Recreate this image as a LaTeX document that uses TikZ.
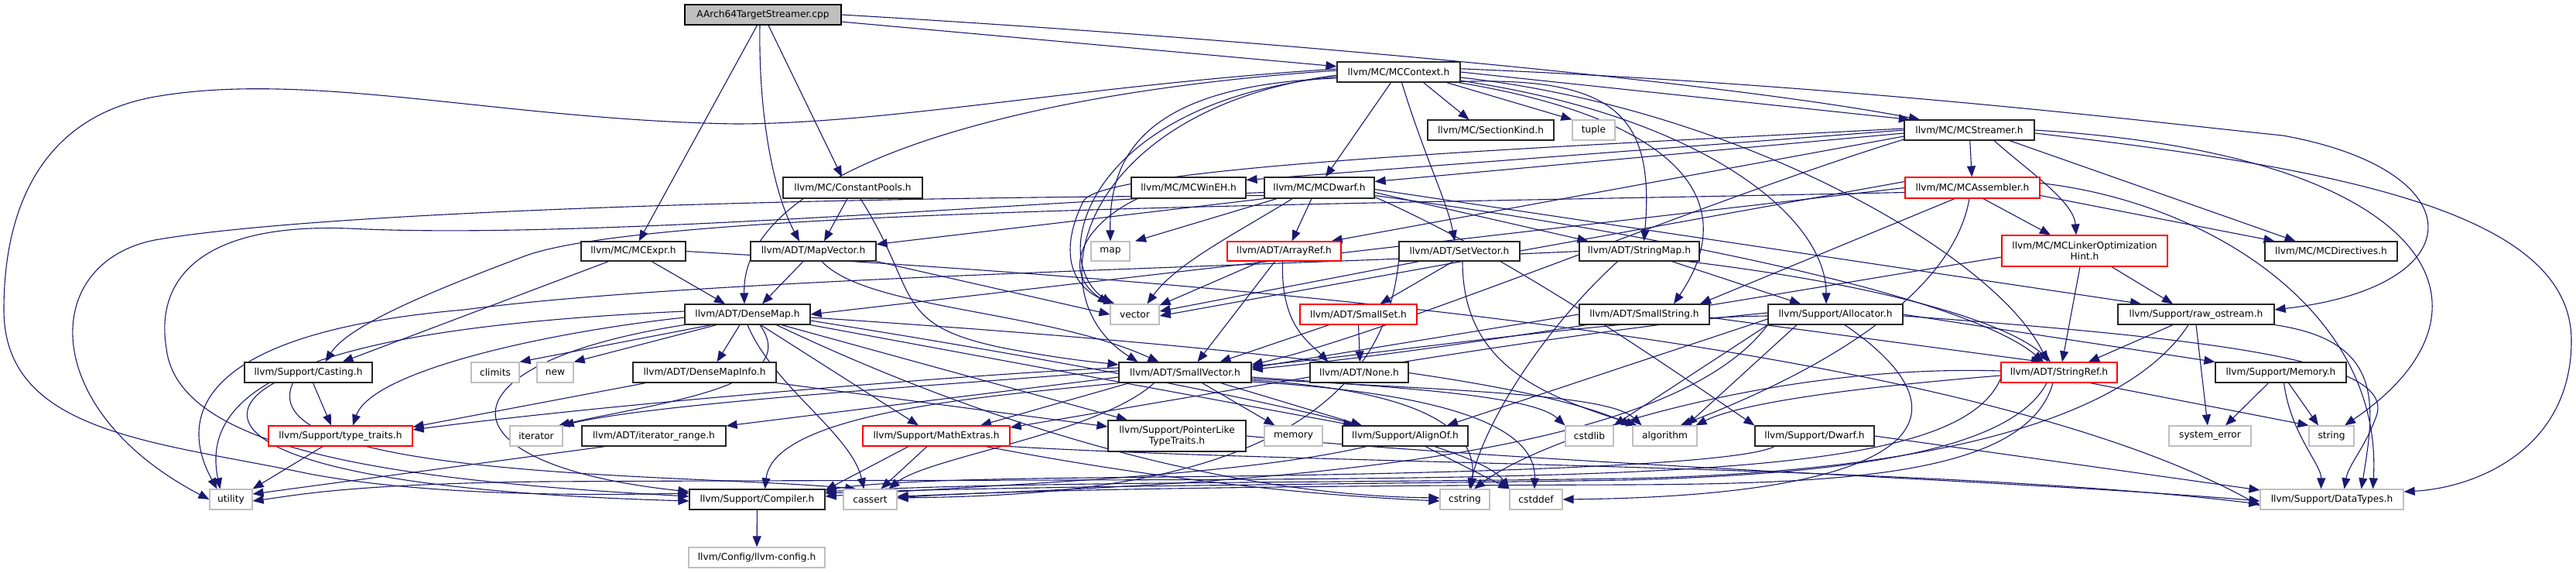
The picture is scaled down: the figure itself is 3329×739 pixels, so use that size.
\documentclass[tikz,border=0pt]{standalone}
\usepackage{fontspec}
\newfontfamily\ndfamily{DejaVu Sans}
\usetikzlibrary{arrows.meta}
\definecolor{edgeblue}{HTML}{191970}
\definecolor{gry}{HTML}{BFBFBF}
\definecolor{tred}{HTML}{FF0000}
\pgfdeclarelayer{bgpaper}
\pgfdeclarelayer{edges}
\pgfsetlayers{bgpaper,edges,main}
\newcommand{\mknode}[7]{%
  \pgfmathsetmacro{\mkw}{(#4-#2)*0.5}%
  \pgfmathsetmacro{\mkh}{(#5-#3)*0.5}%
  \pgfmathsetmacro{\mkx}{(#2+#4)/2}%
  \pgfmathsetmacro{\mky}{(#3+#5)/2}%
  \node[#6, minimum width=\mkw pt, minimum height=\mkh pt] (#1) at (\mkx,\mky) {#7};%
}
\tikzset{
  nbase/.style={rectangle, fill=white, inner sep=0pt, align=center, text=black,
     font=\ndfamily\fontsize{6.1}{7.2}\selectfont, line width=0.6pt},
  box/.style={nbase, draw=black!85},
  rbox/.style={nbase, draw=tred},
  gbox/.style={nbase, draw=gry},
  cbox/.style={nbase, draw=black, fill=gry},
  lnk/.style={draw=edgeblue, line width=0.55pt, -{Triangle[length=7pt,width=5.5pt]}},
}
\begin{document}
\begin{tikzpicture}[x=0.5pt,y=-0.5pt]
\begin{pgfonlayer}{bgpaper}
\path[use as bounding box, fill=white] (0,0) rectangle (3329,739);
\end{pgfonlayer}
% nodes
\mknode{cpp}{885}{6}{1087}{32}{cbox}{AArch64TargetStreamer.cpp}
\mknode{ctx}{1728}{80}{1887}{106}{box}{llvm/MC/MCContext.h}
\mknode{skind}{1845}{155}{2008}{181}{box}{llvm/MC/SectionKind.h}
\mknode{tuple}{2032}{155}{2087}{181}{gbox}{tuple}
\mknode{strm}{2461}{155}{2629}{181}{box}{llvm/MC/MCStreamer.h}
\mknode{cpool}{1012}{229}{1192}{256}{box}{llvm/MC/ConstantPools.h}
\mknode{wineh}{1462}{229}{1610}{256}{box}{llvm/MC/MCWinEH.h}
\mknode{dwarf}{1634}{229}{1776}{256}{box}{llvm/MC/MCDwarf.h}
\mknode{asm}{2462}{229}{2636}{256}{rbox}{llvm/MC/MCAssembler.h}
\mknode{expr}{751}{312}{886}{337}{box}{llvm/MC/MCExpr.h}
\mknode{mapv}{970}{312}{1132}{337}{box}{llvm/ADT/MapVector.h}
\mknode{map}{1410}{312}{1460}{337}{gbox}{map}
\mknode{aref}{1586}{312}{1733}{337}{rbox}{llvm/ADT/ArrayRef.h}
\mknode{setv}{1808}{312}{1964}{337}{box}{llvm/ADT/SetVector.h}
\mknode{smap}{2041}{312}{2196}{337}{box}{llvm/ADT/StringMap.h}
\mknode{loh}{2587}{304}{2801}{344}{rbox}{llvm/MC/MCLinkerOptimization\\Hint.h}
\mknode{dirs}{2927}{312}{3098}{337}{box}{llvm/MC/MCDirectives.h}
\mknode{dmap}{885}{393}{1047}{419}{box}{llvm/ADT/DenseMap.h}
\mknode{vector}{1435}{393}{1498}{419}{gbox}{vector}
\mknode{sset}{1680}{393}{1831}{419}{rbox}{llvm/ADT/SmallSet.h}
\mknode{sstr}{2041}{393}{2209}{419}{box}{llvm/ADT/SmallString.h}
\mknode{alloc}{2285}{393}{2459}{419}{box}{llvm/Support/Allocator.h}
\mknode{rawos}{2737}{393}{2939}{419}{box}{llvm/Support/raw\_ostream.h}
\mknode{cast}{316}{468}{481}{494}{box}{llvm/Support/Casting.h}
\mknode{climits}{609}{468}{671}{494}{gbox}{climits}
\mknode{new}{694}{468}{741}{494}{gbox}{new}
\mknode{dmi}{818}{468}{1003}{494}{box}{llvm/ADT/DenseMapInfo.h}
\mknode{svec}{1446}{468}{1617}{494}{box}{llvm/ADT/SmallVector.h}
\mknode{none}{1693}{468}{1820}{494}{box}{llvm/ADT/None.h}
\mknode{sref}{2586}{468}{2736}{494}{rbox}{llvm/ADT/StringRef.h}
\mknode{mem}{2863}{468}{3032}{494}{box}{llvm/Support/Memory.h}
\mknode{tt}{347}{550}{533}{576}{rbox}{llvm/Support/type\_traits.h}
\mknode{iter}{659}{550}{727}{576}{gbox}{iterator}
\mknode{irange}{752}{550}{938}{576}{box}{llvm/ADT/iterator\_range.h}
\mknode{mathx}{1115}{550}{1305}{576}{rbox}{llvm/Support/MathExtras.h}
\mknode{pltt}{1432}{543}{1610}{583}{box}{llvm/Support/PointerLike\\TypeTraits.h}
\mknode{memory}{1634}{550}{1709}{576}{gbox}{memory}
\mknode{alignof}{1735}{550}{1897}{576}{box}{llvm/Support/AlignOf.h}
\mknode{cstdlib}{2023}{550}{2085}{576}{gbox}{cstdlib}
\mknode{algo}{2110}{550}{2193}{576}{gbox}{algorithm}
\mknode{sdwarf}{2268}{550}{2422}{576}{box}{llvm/Support/Dwarf.h}
\mknode{syserr}{2803}{550}{2909}{576}{gbox}{system\_error}
\mknode{string}{2984}{550}{3042}{576}{gbox}{string}
\mknode{utility}{271}{632}{326}{658}{gbox}{utility}
\mknode{comp}{891}{632}{1066}{658}{box}{llvm/Support/Compiler.h}
\mknode{cassert}{1090}{632}{1159}{658}{gbox}{cassert}
\mknode{cstring}{1861}{632}{1925}{658}{gbox}{cstring}
\mknode{cstddef}{1951}{632}{2019}{658}{gbox}{cstddef}
\mknode{dtypes}{2921}{632}{3106}{658}{gbox}{llvm/Support/DataTypes.h}
\mknode{cfg}{890}{707}{1066}{733}{gbox}{llvm/Config/llvm-config.h}

\begin{pgfonlayer}{edges}
% AArch64TargetStreamer.cpp
\draw[lnk] (cpp) -- (ctx);
\draw[lnk] (cpp.east) .. controls (1700,55) and (2250,110) .. (strm.168);
\draw[lnk] (cpp) -- (expr);
\draw[lnk] ([xshift=-2pt]cpp.south) .. controls (980,150) and (1000,250) .. ([xshift=-9pt]mapv.north);
\draw[lnk] ([xshift=3.5pt]cpp.south) -- ([xshift=-7pt]cpool.north);
% MCContext.h
\draw[lnk] ([xshift=16pt]ctx.south) -- ([xshift=-14pt]skind.north);
\draw[lnk] ([xshift=31pt]ctx.south) -- (tuple.north west);
\draw[lnk] (ctx.east) -- (strm.170);
\draw[lnk] ([xshift=-5pt]ctx.south) -- ([xshift=4pt]dwarf.north);
\draw[lnk] ([xshift=2pt]ctx.south) .. controls (1840,200) and (1870,260) .. ([xshift=-3pt]setv.north);
\draw[lnk] (ctx.-15) .. controls (2080,95) and (2140,140) .. ([xshift=3pt]smap.north);
\draw[lnk] (ctx.-10) .. controls (2150,150) and (2260,250) .. ([xshift=19pt]sstr.north);
\draw[lnk] (ctx.-8) .. controls (2200,150) and (2360,280) .. ([xshift=-6pt]alloc.north);
\draw[lnk] (ctx.-5) .. controls (2250,140) and (2580,330) .. ([xshift=-7.5pt]sref.north);
\draw[lnk] (ctx.3) .. controls (2400,110) and (2800,160) .. (2950,175) .. controls (3200,220) and (3200,370) .. ([yshift=3pt]rawos.east);
\draw[lnk] ([yshift=-2pt]ctx.west) .. controls (1400,140) and (1330,380) .. ([xshift=-30.5pt]svec.north);
\draw[lnk] ([yshift=-3pt]ctx.west) .. controls (1410,130) and (1350,330) .. ([xshift=-15pt]vector.north);
\draw[lnk] ([yshift=-4pt]ctx.west) .. controls (1480,110) and (1433,200) .. (map.north);
\draw[lnk] ([yshift=1pt]ctx.west) .. controls (1300,120) and (958,220) .. ([xshift=-2pt]dmap.north);
\draw[lnk] ([yshift=2pt]ctx.west) .. controls (1400,110) and (1150,160) .. (950,160) .. controls (650,155) and (400,90) .. (200,125) .. controls (60,150) and (5,260) .. (5,400) .. controls (5,560) and (200,570) .. (400,612) .. controls (550,640) and (750,640) .. ([yshift=4pt]comp.west);
% MCStreamer.h
\draw[lnk] (strm) -- (asm);
\draw[lnk] ([xshift=16pt]strm.south) .. controls (2620,220) and (2680,260) .. ([xshift=-5.5pt]loh.north);
\draw[lnk] ([xshift=26pt]strm.south) -- ([xshift=-23pt]dirs.north);
\draw[lnk] (strm.east) .. controls (3150,200) and (3250,400) .. ([xshift=8.5pt]string.north);
\draw[lnk] ([yshift=-2pt]strm.east) .. controls (3050,220) and (3323,280) .. (3323,440) .. controls (3323,580) and (3200,630) .. ([yshift=5pt]dtypes.east);
\draw[lnk] (strm.west) -- ([yshift=5pt]wineh.east);
\draw[lnk] ([yshift=-2pt]strm.west) -- ([yshift=4pt]dwarf.east);
\draw[lnk] ([yshift=-4pt]strm.west) -- ([xshift=-6.5pt]aref.north east);
\draw[lnk] ([yshift=1pt]strm.west) .. controls (2000,190) and (1420,215) .. (1400,260) .. controls (1370,320) and (1380,370) .. ([xshift=-13pt]vector.north);
\draw[lnk] ([yshift=-6pt]strm.west) .. controls (2200,260) and (1800,430) .. ([yshift=5pt]svec.east);
% MCAssembler.h
\draw[lnk] ([xshift=7pt]asm.south) -- ([xshift=-22pt]loh.north);
\draw[lnk] ([yshift=-5pt]asm.east) -- ([xshift=-36.5pt]dirs.north);
\draw[lnk] ([yshift=3pt]asm.east) .. controls (2850,260) and (3080,400) .. ([xshift=26.5pt]dtypes.north);
\draw[lnk] (asm.west) -- (dmap.east);
\draw[lnk] ([yshift=-3pt]asm.west) .. controls (1700,265) and (850,270) .. (680,330) .. controls (560,375) and (450,420) .. ([xshift=11pt]cast.north);
\draw[lnk] ([xshift=-11.5pt]asm.south) -- ([xshift=36pt]sstr.north);
\draw[lnk] ([xshift=-2pt]asm.south) .. controls (2520,400) and (2300,500) .. ([xshift=10pt]algo.north);
\draw[lnk] ([yshift=4pt]asm.west) -- ([yshift=-1pt]vector.east);
% MCLinkerOptimizationHint.h
\draw[lnk] ([xshift=17.5pt]loh.south) -- ([xshift=-15pt]rawos.north);
\draw[lnk] ([xshift=-3pt]loh.south) -- ([xshift=2pt]sref.north);
\draw[lnk] ([yshift=-4pt]loh.west) .. controls (2350,370) and (1900,450) .. ([yshift=2pt]svec.east);
% MCDwarf.h
\draw[lnk] ([xshift=-27.5pt]dwarf.south) -- ([xshift=16pt]map.north);
\draw[lnk] ([xshift=-5pt]dwarf.south) -- ([xshift=5pt]aref.north);
\draw[lnk] ([xshift=-17.5pt]dwarf.south) .. controls (1600,300) and (1520,340) .. ([xshift=8pt]vector.north);
\draw[lnk] (dwarf.south west) -- ([yshift=4.5pt]mapv.east);
\draw[lnk] ([yshift=-3pt]dwarf.east) -- ([xshift=-33pt]smap.north);
\draw[lnk] ([yshift=-5pt]dwarf.east) .. controls (2200,310) and (2550,390) .. ([xshift=-10pt]sref.north);
\draw[lnk] ([yshift=-1pt]dwarf.east) -- ([xshift=-35.5pt]rawos.north);
\draw[lnk] ([yshift=-6pt]dwarf.east) .. controls (1950,330) and (2150,470) .. (sdwarf.north west);
\draw[lnk] ([yshift=-3pt]dwarf.west) .. controls (1300,262) and (750,310) .. (450,295) .. controls (260,288) and (200,360) .. (215,450) .. controls (230,580) and (500,620) .. ([yshift=2pt]comp.west);
\draw[lnk] ([yshift=-5pt]dwarf.west) .. controls (1000,255) and (400,275) .. (200,310) .. controls (50,340) and (50,530) .. (utility.west);
% MCWinEH.h
\draw[lnk] ([xshift=-33pt]wineh.south) .. controls (1400,290) and (1370,350) .. ([xshift=-17pt]vector.north);
% ConstantPools.h
\draw[lnk] ([xshift=-3.5pt]cpool.south) -- ([xshift=7pt]mapv.north);
\draw[lnk] ([xshift=5pt]cpool.south) .. controls (1190,380) and (1150,420) .. (1300,450) .. controls (1380,465) and (1420,468) .. ([yshift=5pt]svec.west);
% MCExpr.h
\draw[lnk] ([xshift=11.75pt]expr.south) -- ([xshift=-14.5pt]dmap.north);
\draw[lnk] ([xshift=-16pt]expr.south) -- ([xshift=22pt]cast.north);
\draw[lnk] (expr.east) .. controls (1400,355) and (2500,420) .. ([yshift=-4pt]dtypes.west);
% MapVector.h
\draw[lnk] ([xshift=-6.5pt]mapv.south) -- ([xshift=9.5pt]dmap.north);
\draw[lnk] ([xshift=5.5pt]mapv.south) .. controls (1120,400) and (1350,400) .. ([xshift=-17pt]svec.north);
\draw[lnk] (mapv.south east) -- (vector.west);
% DenseMap.h
\draw[lnk] ([xshift=-5pt]dmap.south) -- ([xshift=8pt]dmi.north);
\draw[lnk] ([xshift=-23.5pt]dmap.south) -- (climits.north east);
\draw[lnk] ([xshift=-20pt]dmap.south) -- (new.north east);
\draw[lnk] ([yshift=-2pt]dmap.west) .. controls (700,430) and (480,480) .. ([xshift=8pt]tt.north);
\draw[lnk] ([yshift=2pt]dmap.west) .. controls (500,420) and (250,470) .. ([xshift=-7pt]utility.north);
\draw[lnk] (dmap.south west) .. controls (560,470) and (560,600) .. ([yshift=5pt]comp.west);
\draw[lnk] (dmap.south) .. controls (1000,500) and (1100,560) .. ([xshift=-4pt]cassert.north);
\draw[lnk] ([xshift=8pt]dmap.south) .. controls (1040,500) and (850,520) .. ([xshift=14.5pt]iter.north);
\draw[lnk] ([xshift=8.5pt]dmap.south) -- ([xshift=-11.5pt]mathx.north);
\draw[lnk] ([xshift=22pt]dmap.south) -- ([xshift=-32pt]pltt.north);
\draw[lnk] (dmap.south east) -- ([xshift=-33pt]alignof.north);
\draw[lnk] ([yshift=-2pt]dmap.east) .. controls (1500,440) and (1950,480) .. (algo.north west);
\draw[lnk] ([yshift=-4pt]dmap.east) .. controls (1400,470) and (1900,560) .. (cstddef.north west);
\draw[lnk] (dmap.-20) .. controls (1300,560) and (1600,640) .. ([yshift=1pt]cstring.west);
% DenseMapInfo.h
\draw[lnk] ([xshift=-38pt]dmi.south) -- ([yshift=-1pt]tt.north east);
\draw[lnk] (dmi.south east) -- ([yshift=6pt]pltt.west);
% Casting.h
\draw[lnk] ([xshift=3pt]cast.south) -- ([xshift=-6pt]tt.north);
\draw[lnk] ([xshift=-22pt]cast.south) .. controls (270,540) and (300,630) .. ([yshift=-1pt]comp.west);
\draw[lnk] ([xshift=-10pt]cast.south) .. controls (320,620) and (900,612) .. ([xshift=-9pt]cassert.north);
% type_traits.h, iterator_range.h, Compiler.h
\draw[lnk] ([xshift=-11.5pt]tt.south) -- (utility.north east);
\draw[lnk] ([xshift=-31.5pt]irange.south) -- ([yshift=3.5pt]utility.east);
\draw[lnk] (comp) -- (cfg);
% SmallVector.h
\draw[lnk] ([xshift=11pt]svec.south) -- ([xshift=-12pt]memory.north);
\draw[lnk] ([xshift=23pt]svec.south) -- ([xshift=-28pt]alignof.north);
\draw[lnk] ([xshift=-36pt]svec.south) -- ([xshift=28.5pt]mathx.north);
\draw[lnk] ([yshift=3pt]svec.west) .. controls (1300,480) and (800,520) .. ([yshift=4pt]tt.east);
\draw[lnk] ([yshift=1pt]svec.west) .. controls (1250,495) and (850,520) .. (iter.north east);
\draw[lnk] ([yshift=-3pt]svec.west) -- ([yshift=6.5pt]irange.east);
\draw[lnk] (svec.south west) .. controls (1300,510) and (1000,530) .. ([xshift=5pt]comp.north);
\draw[lnk] ([xshift=-20pt]svec.south) .. controls (1420,560) and (1200,590) .. ([xshift=12pt]cassert.north);
\draw[lnk] ([yshift=-3pt]svec.east) .. controls (1800,500) and (1980,510) .. (cstdlib.north west);
\draw[lnk] ([yshift=-4pt]svec.east) .. controls (1900,505) and (2080,510) .. ([xshift=-15pt]algo.north);
\draw[lnk] ([yshift=-5pt]svec.east) .. controls (1850,505) and (1910,560) .. ([xshift=4pt]cstring.north);
\draw[lnk] ([yshift=-6pt]svec.east) .. controls (1900,510) and (1985,560) .. ([xshift=-1pt]cstddef.north);
% MathExtras.h
\draw[lnk] ([xshift=-18pt]mathx.south) -- ([yshift=6pt]comp.east);
\draw[lnk] ([xshift=-6pt]mathx.south) -- ([xshift=7pt]cassert.north);
\draw[lnk] ([xshift=32pt]mathx.south) .. controls (1500,620) and (1700,640) .. ([yshift=-1pt]cstring.west);
\draw[lnk] (mathx.south east) .. controls (1700,600) and (2500,600) .. ([yshift=-3pt]dtypes.west);
% PointerLikeTypeTraits.h, AlignOf.h
\draw[lnk] (pltt.east) .. controls (2000,600) and (2600,620) .. ([yshift=-1pt]dtypes.west);
\draw[lnk] ([xshift=-25pt]alignof.south) .. controls (1600,615) and (1300,625) .. ([yshift=2pt]comp.east);
\draw[lnk] ([xshift=13pt]alignof.south) -- (cstddef.north west);
% SmallSet.h, ArrayRef.h
\draw[lnk] (sset.south) -- ([xshift=0.5pt]none.north);
\draw[lnk] ([xshift=-19pt]sset.south) -- ([xshift=22.5pt]svec.north);
\draw[lnk] ([xshift=-15pt]aref.south) -- (vector.20);
\draw[lnk] ([xshift=-6pt]aref.south) -- ([xshift=8pt]svec.north);
\draw[lnk] ([xshift=-1pt]aref.south) .. controls (1655,420) and (1690,440) .. ([xshift=-20pt]none.north);
% SetVector.h
\draw[lnk] ([xshift=-4pt]setv.south) -- ([xshift=14pt]sset.north);
\draw[lnk] ([xshift=-26pt]setv.south) -- ([yshift=2pt]vector.east);
\draw[lnk] ([xshift=2pt]setv.south) .. controls (1890,470) and (1990,510) .. ([xshift=-18pt]algo.north);
\draw[lnk] (setv.south west) .. controls (1780,620) and (1400,640) .. ([yshift=1pt]cassert.east);
% StringMap.h
\draw[lnk] ([xshift=21pt]smap.south) -- ([xshift=-22.5pt]alloc.north);
\draw[lnk] ([xshift=31pt]smap.south) .. controls (2450,370) and (2600,420) .. ([xshift=-5.5pt]sref.north);
\draw[lnk] ([xshift=-14pt]smap.south) .. controls (2000,420) and (1920,540) .. ([xshift=3pt]cstring.north);
\draw[lnk] (smap.west) .. controls (1600,345) and (900,360) .. (600,400) .. controls (250,430) and (230,540) .. ([xshift=-9pt]utility.north);
% SmallString.h
\draw[lnk] (sstr.west) -- ([yshift=3pt]svec.east);
\draw[lnk] ([yshift=-2pt]sstr.east) -- ([xshift=-11pt]sref.north);
% Allocator.h
\draw[lnk] (alloc.east) -- (mem.north west);
\draw[lnk] ([yshift=-1pt]alloc.east) .. controls (2900,440) and (3100,470) .. (3070,540) .. controls (3055,580) and (3035,600) .. ([xshift=8pt]dtypes.north);
\draw[lnk] ([xshift=-25pt]alloc.south) -- ([xshift=14pt]algo.north);
\draw[lnk] (alloc.south west) -- (cstdlib.north east);
\draw[lnk] ([yshift=-3pt]alloc.west) -- ([xshift=27pt]alignof.north);
\draw[lnk] ([yshift=1pt]alloc.west) .. controls (2000,430) and (1500,520) .. ([yshift=5.5pt]mathx.east);
\draw[lnk] ([yshift=-1pt]alloc.west) .. controls (2100,410) and (1800,455) .. ([yshift=4pt]svec.east);
\draw[lnk] (alloc.south west) .. controls (2150,600) and (1600,625) .. ([yshift=2pt]cassert.east);
\draw[lnk] ([xshift=6pt]alloc.south) .. controls (2560,540) and (2480,640) .. (cstddef.east);
% raw_ostream.h
\draw[lnk] ([xshift=-15pt]rawos.south) -- ([xshift=19pt]sref.north);
\draw[lnk] (rawos.south) -- ([xshift=-1.5pt]syserr.north);
\draw[lnk] (rawos.south east) .. controls (3080,440) and (3070,520) .. ([xshift=19pt]dtypes.north);
\draw[lnk] ([xshift=-5pt]rawos.south) .. controls (2750,540) and (2500,610) .. (2100,618) .. controls (1700,624) and (1300,622) .. ([yshift=5pt]comp.east);
% StringRef.h
\draw[lnk] ([xshift=20pt]sref.south) -- (string.north west);
\draw[lnk] ([yshift=-2pt]sref.west) .. controls (2400,500) and (2250,520) .. ([xshift=20pt]algo.north);
\draw[lnk] ([xshift=-8pt]sref.south) .. controls (2600,580) and (2400,612) .. (2100,620) .. controls (1700,626) and (1300,628) .. ([yshift=4pt]comp.east);
\draw[lnk] ([xshift=-4pt]sref.south) .. controls (2620,610) and (2400,625) .. (2100,626) .. controls (1700,627) and (1300,632) .. ([yshift=1pt]cassert.east);
\draw[lnk] ([yshift=1pt]sref.west) .. controls (2300,470) and (2000,560) .. ([xshift=6pt]cstring.north);
\draw[lnk] ([yshift=-4pt]sref.west) .. controls (2520,640) and (2000,615) .. (700,622) .. controls (450,625) and (380,640) .. ([yshift=-1pt]utility.east);
% Memory.h
\draw[lnk] ([xshift=-8pt]mem.south) -- ([xshift=10pt]syserr.north);
\draw[lnk] ([xshift=5pt]mem.south) -- ([xshift=-8.5pt]string.north);
\draw[lnk] ([xshift=2pt]mem.south) .. controls (2960,560) and (3000,600) .. ([xshift=-7pt]dtypes.north);
% Dwarf.h
\draw[lnk] (sdwarf.east) -- ([yshift=6pt]dtypes.west);
\draw[lnk] ([xshift=-26pt]sdwarf.south) .. controls (2250,600) and (1900,612) .. (1500,616) .. controls (1300,618) and (1150,620) .. ([yshift=6pt]comp.east);
\end{pgfonlayer}
\end{tikzpicture}
\end{document}
